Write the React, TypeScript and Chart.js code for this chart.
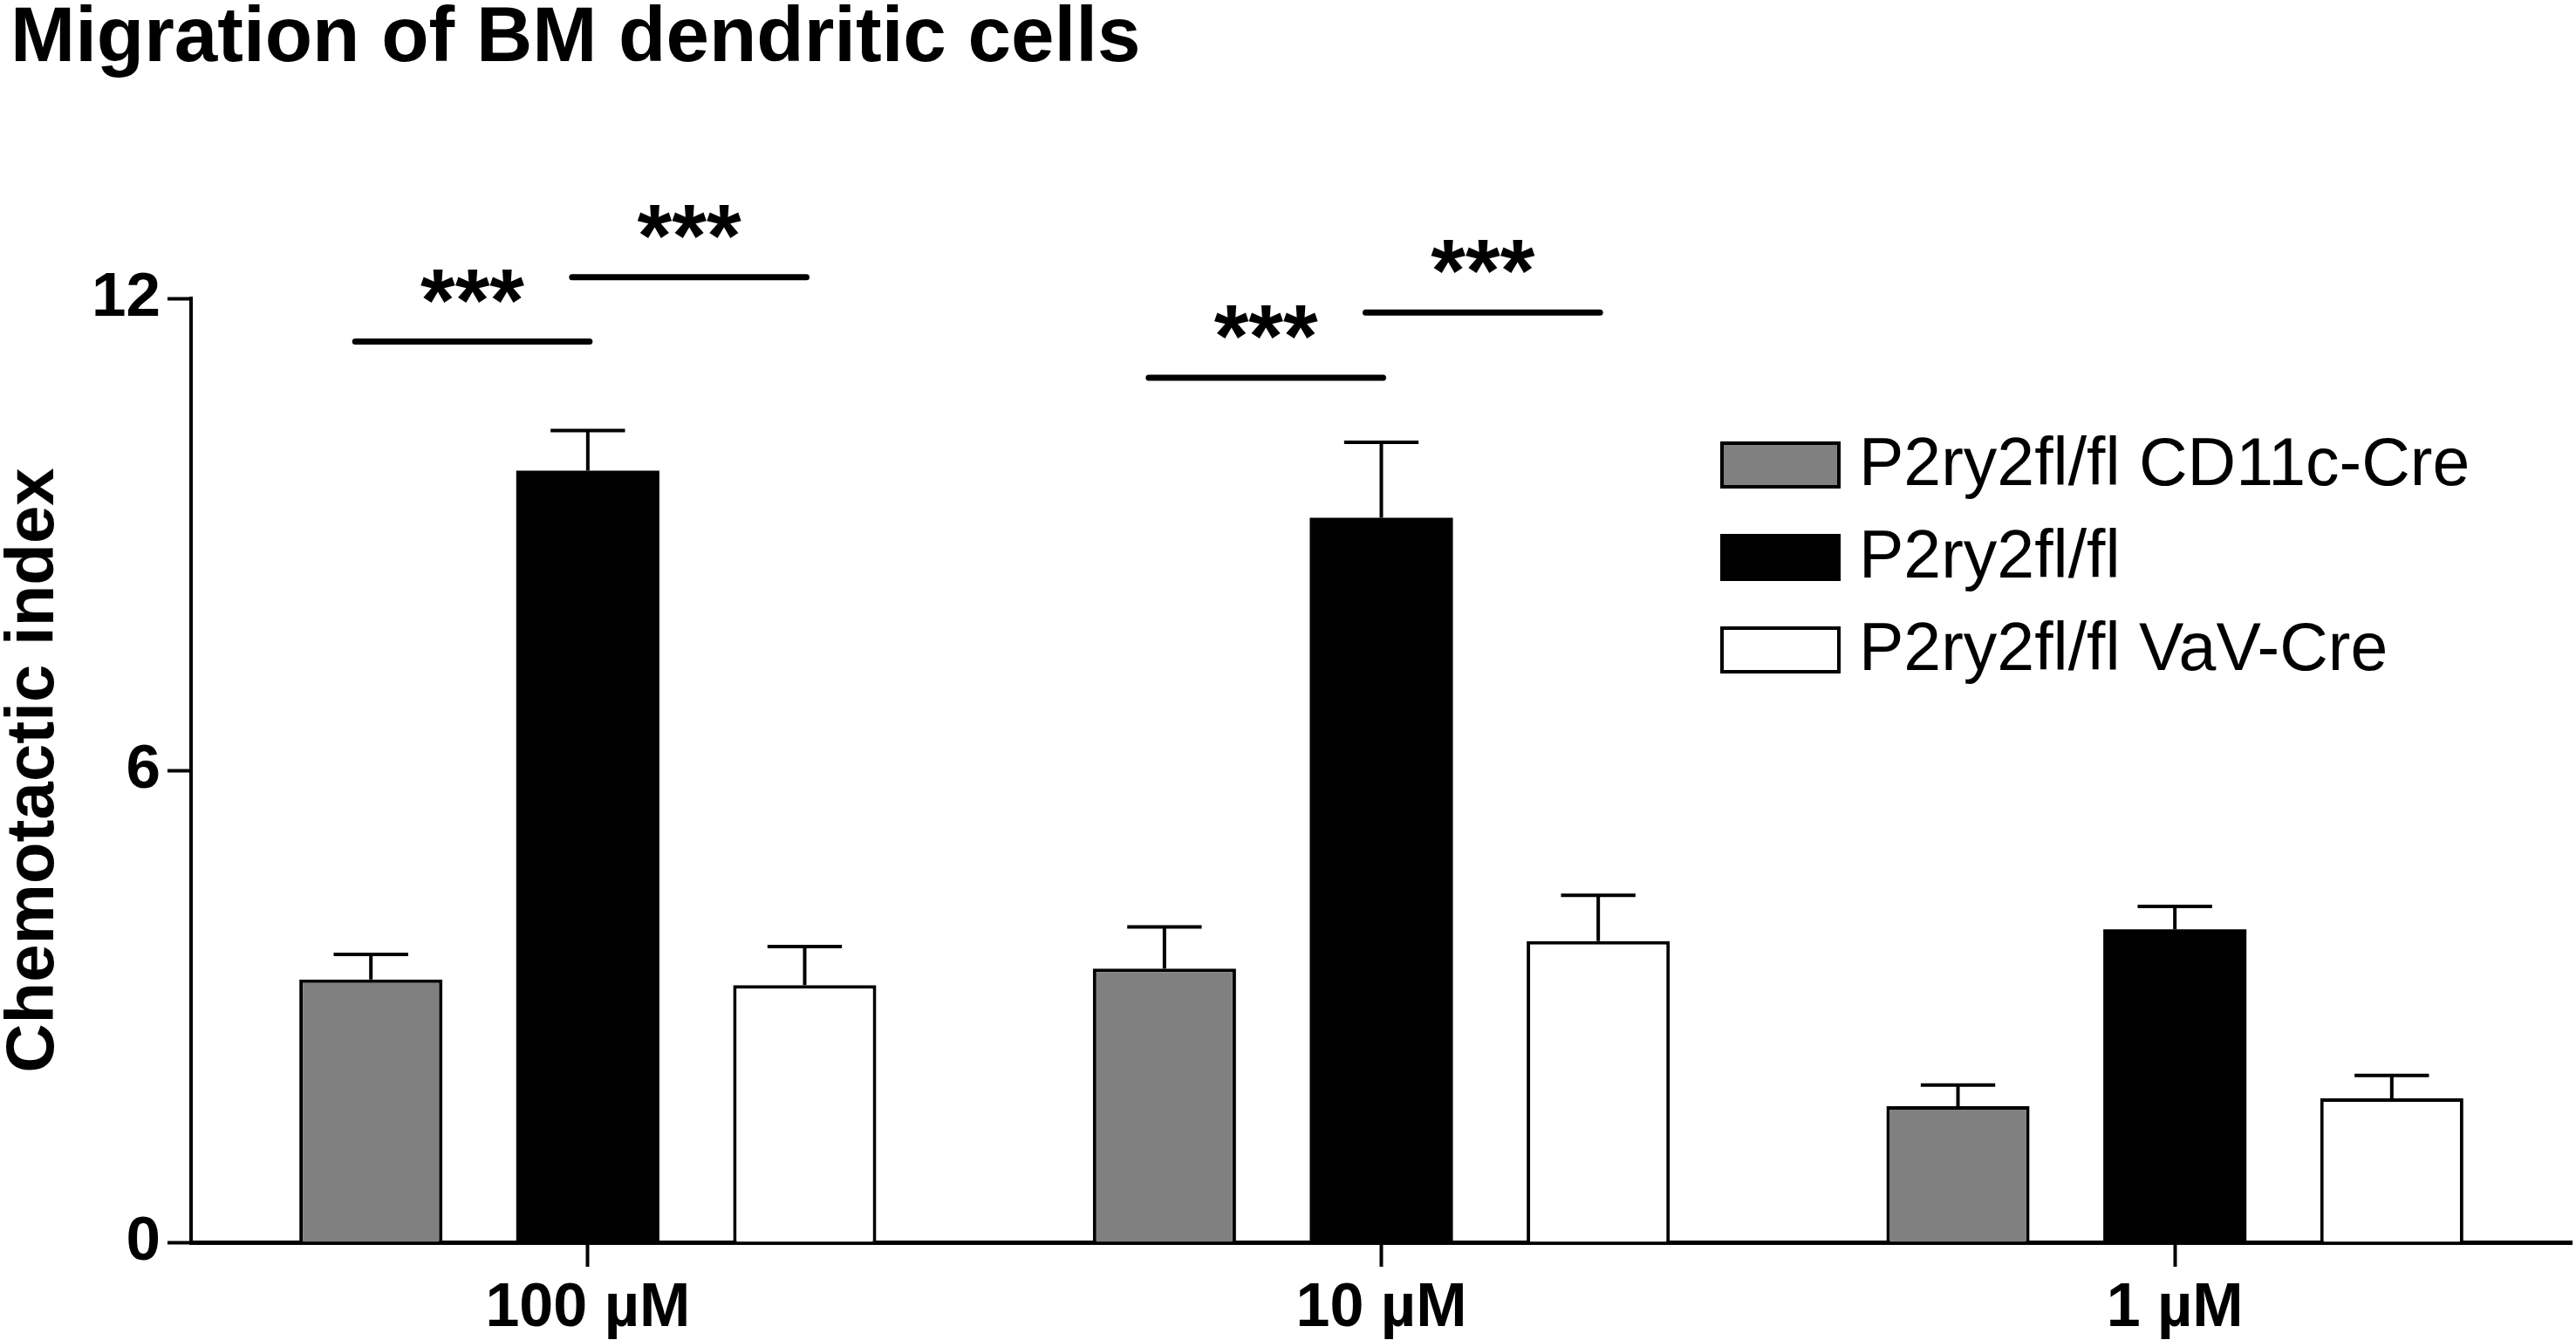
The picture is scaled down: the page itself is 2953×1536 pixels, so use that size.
import React, { useRef, useEffect } from 'react';
import { Chart, registerables, Plugin } from 'chart.js';

Chart.register(...registerables);

const FONT = "'Liberation Sans', Arial, sans-serif";

const categories = ['100 µM', '10 µM', '1 µM'];
const seriesNames = ['P2ry2fl/fl CD11c-Cre', 'P2ry2fl/fl', 'P2ry2fl/fl VaV-Cre'];

const cd11cMeans = [3.34, 3.48, 1.73];
const cd11cErrors = [0.32, 0.53, 0.27];
const floxMeans = [9.81, 9.21, 3.98];
const floxErrors = [0.51, 0.96, 0.29];
const vavMeans = [3.27, 3.83, 1.83];
const vavErrors = [0.49, 0.58, 0.29];

const yTicks = [0, 6, 12];

// significance bars: category, from series, to series, height (axis units)
const sigCategory = [0, 0, 1, 1];
const sigFrom = [0, 1, 0, 1];
const sigTo = [1, 2, 1, 2];
const sigLevel = [11.45, 12.27, 10.99, 11.82];
const sigText = ['***', '***', '***', '***'];

const fills = ['#808080', '#000000', '#ffffff'];
const allMeans = [cd11cMeans, floxMeans, vavMeans];
const allErrors = [cd11cErrors, floxErrors, vavErrors];

const errorBars: Plugin<'bar'> = {
    id: 'errorBars',
    afterDatasetsDraw(chart) {
        const ctx = chart.ctx;
        const yScale = chart.scales.y;
        ctx.save();
        ctx.strokeStyle = '#000';
        ctx.lineWidth = 4;
        allMeans.forEach((means, d) => {
            const meta = chart.getDatasetMeta(d);
            meta.data.forEach((el: any, i) => {
                const top = yScale.getPixelForValue(means[i] + allErrors[d][i]);
                const half = el.width * 0.26;
                ctx.beginPath();
                ctx.moveTo(el.x, el.y);
                ctx.lineTo(el.x, top);
                ctx.moveTo(el.x - half, top);
                ctx.lineTo(el.x + half, top);
                ctx.stroke();
            });
        });
        ctx.restore();
    },
};

const significance: Plugin<'bar'> = {
    id: 'significance',
    afterDraw(chart) {
        const ctx = chart.ctx;
        const yScale = chart.scales.y;
        ctx.save();
        ctx.strokeStyle = '#000';
        ctx.fillStyle = '#000';
        ctx.lineWidth = 7;
        ctx.lineCap = 'round';
        ctx.font = `bold 102px ${FONT}`;
        ctx.textAlign = 'center';
        ctx.textBaseline = 'alphabetic';
        sigLevel.forEach((level, s) => {
            const g = sigCategory[s];
            const x1 = (chart.getDatasetMeta(sigFrom[s]).data[g] as any).x - 18;
            const x2 = (chart.getDatasetMeta(sigTo[s]).data[g] as any).x + 2;
            const y = yScale.getPixelForValue(level);
            ctx.beginPath();
            ctx.moveTo(x1, y);
            ctx.lineTo(x2, y);
            ctx.stroke();
            ctx.fillText(sigText[s], (x1 + x2) / 2, y - 13);
        });
        ctx.restore();
    },
};

const boxLegend: Plugin<'bar'> = {
    id: 'boxLegend',
    afterDraw(chart) {
        const ctx = chart.ctx;
        const left = 1972;
        const top = 506;
        const w = 138;
        const h = 54;
        const step = 106;
        ctx.save();
        ctx.font = `77px ${FONT}`;
        ctx.textBaseline = 'middle';
        ctx.textAlign = 'left';
        seriesNames.forEach((name, i) => {
            const y = top + i * step;
            ctx.fillStyle = fills[i];
            ctx.fillRect(left, y, w, h);
            ctx.strokeStyle = '#000';
            ctx.lineWidth = 4;
            ctx.strokeRect(left + 2, y + 2, w - 4, h - 4);
            ctx.fillStyle = '#000';
            ctx.fillText(name, left + w + 21, y + h / 2 + 2);
        });
        ctx.restore();
    },
};

const MigrationChart: React.FC = () => {
    const chartRef = useRef<HTMLCanvasElement>(null);
    const chartInstance = useRef<Chart | null>(null);

    useEffect(() => {
        if (!chartRef.current) return;
        if (chartInstance.current) chartInstance.current.destroy();
        const ctx = chartRef.current.getContext('2d');
        if (!ctx) return;
        chartInstance.current = new Chart(ctx, {
            type: 'bar',
            data: {
                labels: categories,
                datasets: seriesNames.map((name, i) => ({
                    label: name,
                    data: allMeans[i],
                    backgroundColor: fills[i],
                    borderColor: '#000',
                    borderWidth: i === 1 ? 0 : 4,
                    borderSkipped: 'bottom' as const,
                    barPercentage: 0.66,
                    categoryPercentage: 0.82,
                })),
            },
            options: {
                animation: false,
                responsive: true,
                maintainAspectRatio: false,
                layout: { padding: { left: 12, right: 5, top: 0, bottom: 0 } },
                scales: {
                    x: {
                        afterFit: (scale) => { scale.height = 112; },
                        grid: {
                            offset: false,
                            drawOnChartArea: false,
                            tickLength: 28,
                            tickWidth: 4,
                            tickColor: '#000',
                        },
                        border: { display: true, color: '#000', width: 5 },
                        ticks: {
                            color: '#000',
                            padding: 7,
                            maxRotation: 0,
                            autoSkip: false,
                            font: { family: FONT, size: 70, weight: 'bold' },
                        },
                    },
                    y: {
                        min: 0,
                        max: 12,
                        afterFit: (scale) => { scale.width = 207; },
                        afterBuildTicks: (scale) => { scale.ticks = yTicks.map((v) => ({ value: v })); },
                        grid: {
                            drawOnChartArea: false,
                            tickLength: 27,
                            tickWidth: 4,
                            tickColor: '#000',
                        },
                        border: { display: true, color: '#000', width: 4 },
                        ticks: {
                            color: '#000',
                            padding: 8,
                            font: { family: FONT, size: 71, weight: 'bold' },
                        },
                        title: {
                            display: true,
                            text: 'Chemotactic index',
                            color: '#000',
                            padding: { top: 0, bottom: 0 },
                            font: { family: FONT, size: 78, weight: 'bold', lineHeight: 0.7 },
                        },
                    },
                },
                plugins: {
                    legend: { display: false },
                    tooltip: { enabled: false },
                    title: {
                        display: true,
                        text: 'Migration of BM dendritic cells',
                        align: 'start',
                        color: '#000',
                        padding: { top: 1, bottom: 252 },
                        font: { family: FONT, size: 89, weight: 'bold', lineHeight: 1 },
                    },
                },
            },
            plugins: [errorBars, significance, boxLegend],
        });
        return () => { chartInstance.current?.destroy(); chartInstance.current = null; };
    }, []);

    return (
        <div style={{ position: 'absolute', left: 0, top: 0, width: 2953, height: 1536, background: '#fff' }}>
            <canvas ref={chartRef}></canvas>
        </div>
    );
};

export default function App() {
    return <MigrationChart />;
}
